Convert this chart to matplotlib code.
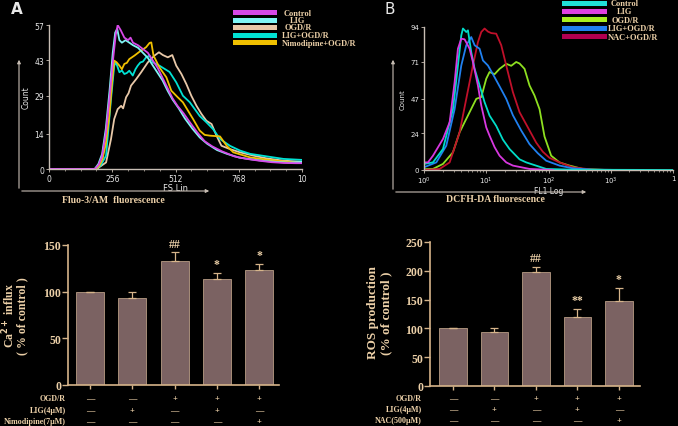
import matplotlib.pyplot as plt
import numpy as np
from matplotlib.patches import Rectangle

# ---- panel A: Fluo-3/AM histograms (FS Lin, count) ----
a_ctrl_x = [0, 185, 200, 215, 230, 245, 260, 270, 278, 290, 305, 320, 330, 340, 360, 380, 400, 420, 440, 460,
            480, 500, 520, 545, 570, 600, 630, 660, 700, 750, 800, 850, 900, 950, 1000, 1024]
a_ctrl_y = [0, 0, 1.5, 5, 14, 28, 44, 53, 57, 55, 52, 51, 52, 50, 49, 47.5, 46, 43, 40, 36,
            32, 28, 25, 22, 18.5, 14.5, 11, 9, 7, 5, 4, 3.3, 2.7, 2.4, 2.3, 2.3]
a_lig_x = [0, 185, 200, 215, 230, 245, 258, 268, 276, 285, 295, 310, 325, 340, 360, 380, 400, 420, 440, 460,
           480, 500, 525, 550, 580, 610, 640, 680, 720, 770, 820, 870, 920, 970, 1024]
a_lig_y = [0, 0, 2, 6, 16, 31, 46, 54, 55.5, 51, 50, 51, 50, 49, 48, 46, 44, 41, 38, 35,
           31, 27.5, 24, 20, 16, 12.5, 10, 7.5, 6, 4.5, 3.8, 3.2, 2.8, 2.5, 2.8]
a_ogd_x = [0, 195, 203, 231, 251, 264, 278, 292, 300, 312, 322, 332, 353, 373, 400, 427, 445, 461, 481, 499,
           515, 536, 556, 576, 597, 617, 637, 658, 678, 698, 732, 773, 827, 881, 949, 1024]
a_ogd_y = [0, 0, 0.7, 2.6, 11.9, 19.8, 23.7, 25, 24, 28.4, 30, 33, 35.6, 38.3, 42.2, 44.9, 46.2, 45.1, 44.2, 45.1,
           40.9, 37.6, 33.6, 29, 25, 21.8, 19.1, 17.8, 13.2, 9.2, 7.9, 6.6, 5.3, 4.2, 3.3, 2.9]
a_ligogd_x = [0, 190, 210, 231, 251, 264, 271, 285, 295, 305, 315, 325, 339, 350, 359, 370, 380, 393, 407, 420,
              435, 447, 470, 488, 515, 542, 570, 610, 637, 664, 692, 732, 773, 814, 881, 949, 1024]
a_ligogd_y = [0, 0, 1.5, 5.3, 27.7, 40.9, 42.2, 38.3, 39, 37.6, 38, 38.9, 37, 39.5, 40.9, 42.2, 42.5, 44.2, 44.9, 42.2,
              41.5, 40.9, 39.5, 38.4, 34.3, 29, 26.4, 21, 18.5, 15.8, 11.9, 9.2, 7.3, 6, 5, 4, 3.6]
a_nimo_x = [0, 190, 205, 217, 230, 244, 255, 264, 274, 285, 295, 305, 315, 325, 346, 366, 393, 407, 414, 423,
            447, 475, 495, 520, 542, 583, 610, 630, 651, 692, 719, 746, 814, 881, 949, 1024]
a_nimo_y = [0, 0, 1.5, 4, 10, 21, 34, 42.9, 42.2, 40.9, 39.5, 41.6, 42, 43.5, 44.9, 46.4, 48.2, 49.9, 50.1, 44.9,
            40.2, 36.3, 31, 28.5, 26.4, 19.8, 15.2, 13.5, 13.2, 12.9, 9.2, 6.6, 4.6, 3.7, 3, 2.4]

# ---- panel B: DCFH-DA histograms (FL1 log decades, count) ----
b_ctrl_dec = [0, 0.144, 0.305, 0.465, 0.545, 0.599, 0.626, 0.679, 0.706, 0.759, 0.813, 0.893, 0.973, 1.053,
              1.160, 1.267, 1.374, 1.535, 1.642, 1.963, 2.390, 3.995]
b_ctrl_y = [4, 5, 13.8, 40, 68.7, 88.5, 93, 90.7, 91.8, 77.5, 66.5, 55.6, 44.6, 35.8, 29, 20, 13.8, 7, 5, 0.7, 0.2, 0]
b_lig_dec = [0, 0.064, 0.144, 0.305, 0.412, 0.492, 0.545, 0.599, 0.652, 0.733, 0.786, 0.866, 0.920, 1.0, 1.053,
             1.134, 1.214, 1.321, 1.428, 1.695, 2.07]
b_lig_y = [5, 5, 9.4, 20.4, 31.4, 57.8, 79.7, 86.3, 85.9, 79.7, 71, 55.6, 42.4, 28, 22.6, 15, 9.4, 5, 2.9, 0.7, 0]
b_ogd_dec = [0, 0.144, 0.305, 0.465, 0.572, 0.679, 0.786, 0.840, 0.920, 1.0, 1.053, 1.134, 1.214, 1.321, 1.401,
             1.481, 1.535, 1.615, 1.695, 1.775, 1.856, 1.936, 2.043, 2.176, 2.337, 2.551, 2.925]
b_ogd_y = [0.5, 0.7, 4, 11.6, 24.8, 33.6, 42.4, 46.8, 47.9, 60, 64.4, 63, 66.5, 69.8, 68.5,
           71, 70, 66.5, 55.6, 49, 40, 22, 9.4, 5, 2.9, 0.7, 0]
b_ligogd_dec = [0, 0.198, 0.358, 0.492, 0.599, 0.679, 0.759, 0.813, 0.893, 0.947, 1.027, 1.107, 1.214, 1.321,
                1.428, 1.561, 1.695, 1.829, 1.963, 2.176, 2.390, 2.711, 3.193]
b_ligogd_y = [1.8, 5, 16, 40, 68.7, 82, 87.4, 82, 79.7, 72, 68.7, 63, 55, 46.8, 36, 26, 17, 11, 6.1, 2.9, 1.1, 0.2, 0]
b_nac_dec = [0, 0.251, 0.412, 0.572, 0.679, 0.786, 0.866, 0.920, 0.973, 1.027, 1.080, 1.160, 1.241, 1.321, 1.428,
             1.535, 1.642, 1.802, 1.909, 2.016, 2.176, 2.390, 2.711, 3.193]
b_nac_y = [0, 0.7, 5, 24.8, 46.8, 68.7, 84, 90.7, 93, 91, 90, 89.6, 82, 68.7, 51.2, 38, 30, 18, 12, 8, 5, 1.8, 0.2, 0]

# ---- bar charts ----
ca_mean = [100, 93, 133, 114, 123]
ca_err = [0, 6.5, 9, 6.5, 6.5]
ca_marks = ['', '', '##', '*', '*']
ros_mean = [100, 94, 198, 120, 147]
ros_err = [0, 7, 9, 14, 24]
ros_marks = ['', '', '##', '**', '*']

ogd_signs = ['—', '—', '+', '+', '+']
lig_signs = ['—', '+', '—', '+', '—']
nimo_signs = ['—', '—', '—', '—', '+']
nac_signs = ['—', '—', '—', '—', '+']

W, H = 678, 427
fig = plt.figure(figsize=(W / 100, H / 100), dpi=100, facecolor='black')

TAN = '#ecd0a8'
AX_TAN = '#d6b48a'
GREY = '#c8beb4'
BAR = '#7b6262'
SERIF = 'Liberation Serif'


def box(l, t, r, b):
    return [l / W, 1 - b / H, (r - l) / W, (b - t) / H]


# overlay in pixel coords for labels, legends and arrows (drawn on top)
ov = fig.add_axes([0, 0, 1, 1], facecolor='none')
ov.set_xlim(0, W)
ov.set_ylim(H, 0)
ov.axis('off')
ov.set_zorder(10)


def hist_axes(rect):
    ax = fig.add_axes(rect, facecolor='none')
    for s in ['top', 'right']:
        ax.spines[s].set_visible(False)
    for s in ['left', 'bottom']:
        ax.spines[s].set_color(GREY)
        ax.spines[s].set_linewidth(1.0)
    ax.tick_params(colors=GREY, labelcolor='#e8e8e8', labelsize=5.5, length=2, width=0.6, pad=1.5)
    ax.tick_params(which='minor', colors=GREY, length=1.2, width=0.5)
    return ax


# ---------- panel A histogram ----------
axA = hist_axes(box(49, 26, 302, 170))
for xs, ys, c in [(a_ogd_x, a_ogd_y, '#e8c8a8'), (a_ligogd_x, a_ligogd_y, '#00e2d4'),
                  (a_nimo_x, a_nimo_y, '#f0c000'), (a_lig_x, a_lig_y, '#80f4f4'),
                  (a_ctrl_x, a_ctrl_y, '#d848e8')]:
    axA.plot(xs, ys, color=c, lw=1.3)
axA.set_xlim(0, 1024)
axA.set_ylim(0, 57)
axA.set_xticks([0, 256, 512, 768, 1024])
axA.set_xticklabels(['0', '256', '512', '768', '10'])
axA.set_xticks(np.arange(0, 1025, 64), minor=True)
axA.set_yticks([0, 14, 29, 43, 57])
axA.set_yticklabels(['0', '14', '29', '43', '57'])
axA.set_ylabel('Count', color='#e8e8e8', fontsize=5.5, labelpad=3)
axA.set_xlabel('FS Lin', color='#e8e8e8', fontsize=6, labelpad=0)

# ---------- panel B histogram ----------
axB = hist_axes(box(424, 28, 673, 171))
for ds, ys, c in [(b_ogd_dec, b_ogd_y, '#8ee020'), (b_nac_dec, b_nac_y, '#c0102a'),
                  (b_ligogd_dec, b_ligogd_y, '#2080f0'), (b_ctrl_dec, b_ctrl_y, '#00dcc8'),
                  (b_lig_dec, b_lig_y, '#d838e0')]:
    axB.plot(10 ** np.array(ds), ys, color=c, lw=1.3)
axB.set_xscale('log')
axB.set_xlim(1, 1e4)
axB.set_ylim(0, 94)
axB.set_xticks([1, 10, 100, 1000, 10000])
axB.set_xticklabels(['10$^0$', '10$^1$', '10$^2$', '10$^3$', '1'])
axB.set_yticks([0, 24, 47, 71, 94])
axB.tick_params(labelsize=5)
axB.set_ylabel('Count', color='#e8e8e8', fontsize=5, labelpad=3)
axB.set_xlabel('FL1 Log', color='#e8e8e8', fontsize=5.5, labelpad=0)

# panel letters
ov.text(17, 10, 'A', color='#e8e8e8', fontsize=11, fontweight='bold', ha='center', va='center')
ov.text(390, 9, 'B', color='#e8e8e8', fontsize=11, ha='center', va='center')

# outer arrows
arrow_kw = dict(arrowstyle='-|>', color=GREY, lw=0.8, mutation_scale=5)
ov.annotate('', xy=(19, 58), xytext=(19, 192), arrowprops=arrow_kw)
ov.annotate('', xy=(212, 192), xytext=(19, 192), arrowprops=arrow_kw)
ov.annotate('', xy=(393, 58), xytext=(393, 193), arrowprops=arrow_kw)
ov.annotate('', xy=(589, 193), xytext=(393, 193), arrowprops=arrow_kw)
ov.text(113, 201, 'Fluo-3/AM  fluorescence', color=TAN, fontsize=7, fontweight='bold',
        family=SERIF, ha='center', va='center')
ov.text(495, 200, 'DCFH-DA fluorescence', color=TAN, fontsize=7, fontweight='bold',
        family=SERIF, ha='center', va='center')

# legends
legA = [('Control', '#d848e8', 'c'), ('LIG', '#80f4f4', 'c'), ('OGD/R', '#e8c8a8', 'c'),
        ('LIG+OGD/R', '#00e2d4', 'l'), ('Nimodipine+OGD/R', '#f0c000', 'l')]
for i, (lab, c, al) in enumerate(legA):
    y = 13.5 + i * 7.5
    ov.add_patch(Rectangle((233, y - 2.5), 44, 5, facecolor=c, edgecolor='none'))
    if al == 'c':
        ov.text(298, y, lab, color=TAN, fontsize=6, fontweight='bold', family=SERIF, ha='center', va='center')
    else:
        ov.text(282, y, lab, color=TAN, fontsize=6, fontweight='bold', family=SERIF, ha='left', va='center')
legB = [('Control', '#20e0d8', 'c'), ('LIG', '#e040e0', 'c'), ('OGD/R', '#a8f020', 'c'),
        ('LIG+OGD/R', '#2080f0', 'l'), ('NAC+OGD/R', '#b00050', 'l')]
for i, (lab, c, al) in enumerate(legB):
    y = 4 + i * 8.4
    ov.add_patch(Rectangle((562, y - 2.5), 45, 5, facecolor=c, edgecolor='none'))
    if al == 'c':
        ov.text(625, y, lab, color=TAN, fontsize=6, fontweight='bold', family=SERIF, ha='center', va='center')
    else:
        ov.text(608, y, lab, color=TAN, fontsize=6, fontweight='bold', family=SERIF, ha='left', va='center')


# ---------- bar charts ----------
def bar_axes(rect, means, errs, marks, ymax, step, xlim):
    ax = fig.add_axes(rect, facecolor='none')
    x = np.arange(len(means))
    ax.bar(x, means, width=0.66, color=BAR, edgecolor='#b89c84', linewidth=0.6, zorder=2)
    ax.errorbar(x, means, yerr=[np.zeros(len(errs)), errs], fmt='none', ecolor=AX_TAN,
                elinewidth=0.9, capsize=3, capthick=0.9, zorder=3)
    for xi, m, e, t in zip(x, means, errs, marks):
        if t:
            ax.annotate(t, (xi, m + e), xytext=(0, 2), textcoords='offset points', ha='center',
                        va='bottom', color=TAN, fontsize=8.5, fontweight='bold', family=SERIF)
    ax.set_xlim(*xlim)
    ax.set_ylim(0, ymax)
    ax.set_yticks(np.arange(0, ymax + 1, step))
    ax.set_xticks(x)
    ax.set_xticklabels([])
    for s in ['top', 'right']:
        ax.spines[s].set_visible(False)
    for s in ['left', 'bottom']:
        ax.spines[s].set_color(AX_TAN)
        ax.spines[s].set_linewidth(1.2)
    ax.tick_params(colors=AX_TAN, labelcolor=TAN, length=4, width=1.0, pad=1)
    ax.tick_params(axis='x', length=3)
    for lbl in ax.get_yticklabels():
        lbl.set_fontweight('bold')
        lbl.set_family(SERIF)
        lbl.set_fontsize(8.5)
    return ax, x


axC, xc = bar_axes(box(68, 246, 279, 386), ca_mean, ca_err, ca_marks, 150, 50, (-0.52, 4.47))
axD, xd = bar_axes(box(430, 243, 640, 387), ros_mean, ros_err, ros_marks, 250, 50, (-0.55, 4.51))

ov.text(9, 316, 'Ca$^{\\mathbf{2+}}$ influx', color=TAN, fontsize=8.5, fontweight='bold', family=SERIF,
        rotation=90, ha='center', va='center')
ov.text(22, 316, '( % of control )', color=TAN, fontsize=8.5, fontweight='bold', family=SERIF,
        rotation=90, ha='center', va='center')
ov.text(373, 313, 'ROS production', color=TAN, fontsize=9.5, fontweight='bold', family=SERIF,
        rotation=90, ha='center', va='center')
ov.text(386, 313, '(% of control )', color=TAN, fontsize=9.5, fontweight='bold', family=SERIF,
        rotation=90, ha='center', va='center')


def sign_table(ax, x, rows, xlabel_right, ys):
    for (name, signs), y in zip(rows, ys):
        ov.text(xlabel_right, y, name, color=TAN, fontsize=5.8, fontweight='bold', family=SERIF,
                ha='right', va='center')
        for xi, s in zip(x, signs):
            px = ax.transData.transform((xi, 0))[0]
            ov.text(px * W / fig.bbox.width, y, s, color=TAN, fontsize=6, fontweight='bold',
                    family=SERIF, ha='center', va='center')


fig.canvas.draw()
sign_table(axC, xc, [('OGD/R', ogd_signs), ('LIG(4μM)', lig_signs), ('Nimodipine(7μM)', nimo_signs)],
           66, [399, 411, 422])
sign_table(axD, xd, [('OGD/R', ogd_signs), ('LIG(4μM)', lig_signs), ('NAC(500μM)', nac_signs)],
           422, [399, 410, 421])

fig.savefig('out.png', dpi=100, facecolor='black')
